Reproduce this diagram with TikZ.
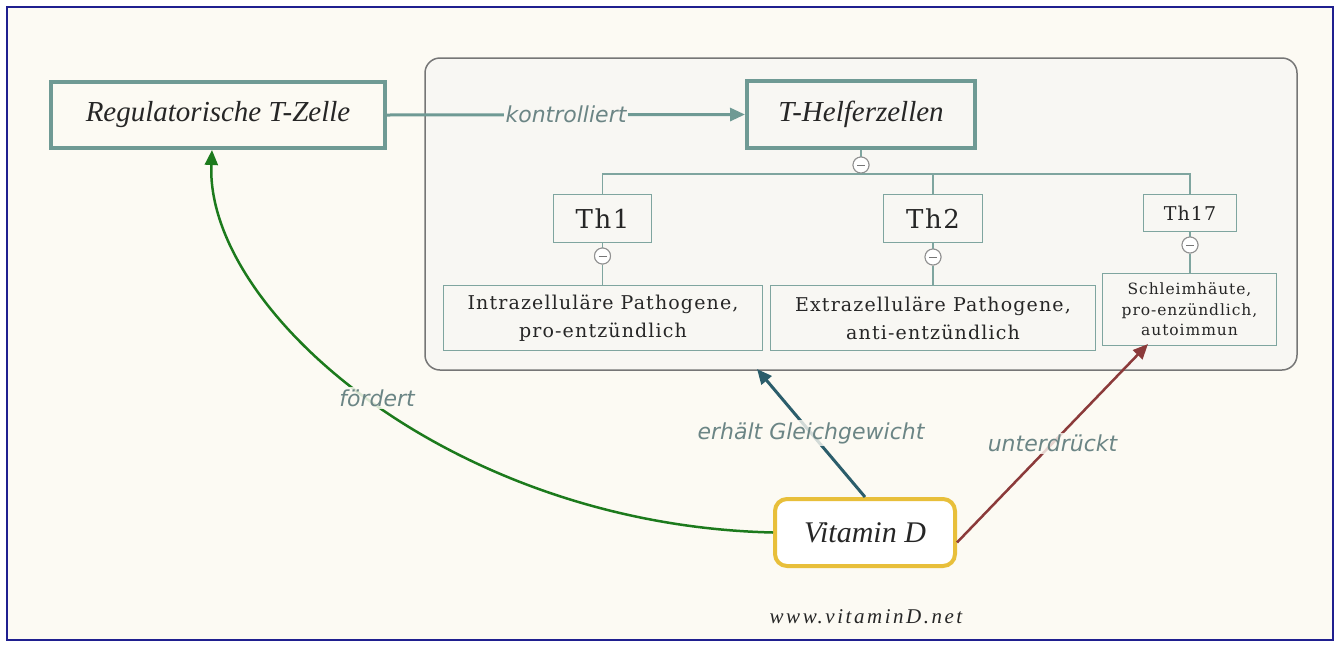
\documentclass[tikz,border=0pt]{standalone}
\usepackage{fontspec}
\usetikzlibrary{arrows.meta,calc}
\newfontfamily\lblfont{DejaVu Sans}
\newfontfamily\boxfont{DejaVu Serif}[LetterSpace=6]
\newfontfamily\ttlfont{Liberation Serif}
\newfontfamily\webfont{Liberation Serif}[LetterSpace=12]
\definecolor{bgcol}{HTML}{FCFAF3}
\definecolor{grpfill}{HTML}{F8F7F3}
\definecolor{grpdraw}{HTML}{767676}
\definecolor{navy}{HTML}{1F1F8F}
\definecolor{tealA}{HTML}{6F9A94}
\definecolor{tealB}{HTML}{7FA59F}
\definecolor{greenA}{HTML}{1C7A1C}
\definecolor{petrol}{HTML}{2B5D6B}
\definecolor{redA}{HTML}{8B3A3A}
\definecolor{goldA}{HTML}{E8BF3A}
\definecolor{lblcol}{HTML}{6B8585}
\definecolor{txt}{HTML}{262626}
\begin{document}
\begin{tikzpicture}[x=1pt,y=-1pt,
  titlebox/.style={draw=tealA,line width=4pt,inner sep=0pt,text=txt,
    font=\ttlfont\fontsize{29}{32}\selectfont\itshape},
  subbox/.style={draw=tealB,line width=1.3pt,inner sep=0pt,text=txt,
    font=\boxfont\fontsize{19}{28}\selectfont,align=center},
  minus/.style={circle,draw=grpdraw!80,line width=1pt,fill=white,minimum size=16pt,inner sep=0pt,
    path picture={\draw[grpdraw,line width=1pt] ([xshift=-4pt]path picture bounding box.center) -- ([xshift=4pt]path picture bounding box.center);}},
  tree/.style={draw=tealB,line width=1.5pt},
  elabel/.style={font=\lblfont\itshape\fontsize{22}{26}\selectfont,text=lblcol,inner sep=2pt},
  tip/.style={-{Triangle[length=15pt,width=13pt]}}
]
\useasboundingbox (0,0) rectangle (1339,646);
\fill[white] (0,0) rectangle (1339,646);
\draw[navy,line width=2pt,fill=bgcol] (7,7) rectangle (1333,640);

% group
\node[draw=grpdraw,line width=1.5pt,fill=grpfill,rounded corners=15pt,minimum width=872pt,minimum height=312pt,inner sep=0pt] (grp) at (861,214) {};

% title boxes
\node[titlebox,minimum width=334pt,minimum height=66pt] (reg) at (218,115) {Regulatorische T-Zelle};
\node[titlebox,minimum width=228pt,minimum height=67pt] (thelf) at (861,114.5) {T-Helferzellen};

% Th boxes
\node[subbox,minimum width=98pt,minimum height=48pt,font=\boxfont\fontsize{26}{30}\selectfont] (th1) at (602.5,218.5) {Th1};
\node[subbox,minimum width=99pt,minimum height=48pt,font=\boxfont\fontsize{26}{30}\selectfont] (th2) at (933,218.5) {Th2};
\node[subbox,minimum width=93pt,minimum height=37pt,font=\boxfont\fontsize{19}{24}\selectfont] (th17) at (1190,213) {Th17};

\node[subbox,minimum width=319pt,minimum height=65pt] (intra) at (603,318) {Intrazelluläre Pathogene,\\pro-entzündlich};
\node[subbox,minimum width=325pt,minimum height=65pt] (extra) at (933,318) {Extrazelluläre Pathogene,\\anti-entzündlich};
\node[subbox,minimum width=174pt,minimum height=72pt,font=\boxfont\fontsize{15.5}{20.5}\selectfont] (schl) at (1189.5,309.5) {Schleimhäute,\\pro-enzündlich,\\autoimmun};

% minus circles
\node[minus] (m0) at (861,165) {};
\node[minus] (m1) at (602.5,256) {};
\node[minus] (m2) at (933,257) {};
\node[minus] (m3) at (1190,245) {};
\coordinate (bus) at (861,174);

% tree connectors
\draw[tree] (thelf.south) -- (m0.north);
\draw[tree] (th1.north) -- (th1.north |- bus) -- (th17.north |- bus) -- (th17.north);
\draw[tree] (th2.north) -- (th2.north |- bus);
\draw[tree] (th1.south) -- (m1.north);
\draw[tree] (m1.south) -- (intra.north -| m1);
\draw[tree] (th2.south) -- (m2.north);
\draw[tree] (m2.south) -- (extra.north -| m2);
\draw[tree] (th17.south) -- (m3.north);
\draw[tree] (m3.south) -- (schl.north -| m3);
\node[minus] at (m0) {};
\node[minus] at (m1) {};
\node[minus] at (m2) {};
\node[minus] at (m3) {};

% Vitamin D
\node[draw=goldA,line width=4pt,fill=white,rounded corners=12pt,minimum width=180pt,minimum height=67pt,inner sep=0pt,text=txt,font=\ttlfont\fontsize{30}{32}\selectfont\itshape] (vit) at (865,532.5) {Vitamin D};

\node[text=txt,font=\webfont\fontsize{21}{24}\selectfont\itshape] (web) at (866,617) {www.vitaminD.net};

% connectors
\draw[tealA,line width=3pt,tip] (reg.east) -- node[elabel,fill=grpfill] (lk) {kontrolliert} (thelf.west);

\coordinate (greg) at ([xshift=-6pt]reg.south);
\draw[greenA,line width=2.5pt,tip] (vit.west) .. controls (450,525) and (205,310) .. (greg);
\node[elabel,fill=bgcol,fill opacity=0.85,text opacity=1] (lf) at (377,398) {fördert};

\coordinate (gbot) at (757,369);
\draw[petrol,line width=3pt,tip] (vit.north) -- node[pos=0.5,elabel,fill=bgcol,fill opacity=0.8,text opacity=1] (lg) {erhält Gleichgewicht} (gbot);

\coordinate (sbot) at (1148,344);
\draw[redA,line width=2.5pt,tip] ([yshift=-10pt]vit.east) -- node[pos=0.5,elabel,fill=bgcol,fill opacity=0.8,text opacity=1] (lu) {unterdrückt} (sbot);
\end{tikzpicture}
\end{document}
